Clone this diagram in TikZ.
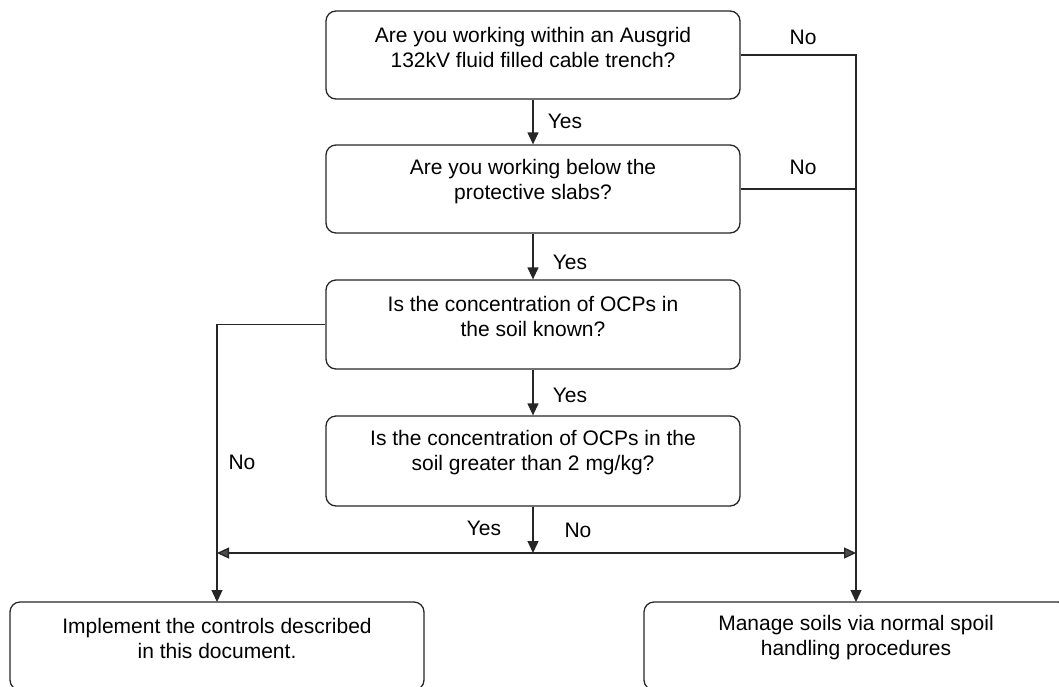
\documentclass[tikz,border=0pt]{standalone}
\usepackage{fontspec}
\setmainfont{Liberation Sans}
\usetikzlibrary{arrows.meta}
\begin{document}
\begin{tikzpicture}[x=1pt,y=1pt,
  box/.style={draw=black!85, line width=1.3pt, rounded corners=10pt, minimum width=414pt, inner sep=0pt},
  txt/.style={align=center, font=\fontsize{21}{25}\selectfont, inner sep=0pt},
  lab/.style={font=\fontsize{21}{25}\selectfont, inner sep=0pt},
  conn/.style={draw=black!85, line width=1.3pt},
  arr/.style={conn, -{Triangle[length=12pt,width=11pt]}},
  darr/.style={conn, {Triangle[length=12pt,width=11pt,fill=black!70]}-{Triangle[length=12pt,width=11pt,fill=black!70]}}
]
\useasboundingbox (0,0) rectangle (1059,-686);
\begin{scope}
\clip (0,0) rectangle (1059,-686);
\node[box, minimum height=88pt] (b1) at (533,-55) {};
\node[box, minimum height=88pt] (b2) at (533,-189) {};
\node[box, minimum height=89pt] (b3) at (533,-324.5) {};
\node[box, minimum height=90pt] (b4) at (533,-461) {};
\node[box, minimum height=88pt] (b5) at (217,-646) {};
\node[box, minimum height=88pt, minimum width=424pt] (b6) at (856,-646) {};
\end{scope}
\node[txt] (t1) at ([yshift=-37pt]b1.north) {Are you working within an Ausgrid\\132kV fluid filled cable trench?};
\node[txt] (t2) at ([yshift=-37pt]b2.north) {Are you working below the\\protective slabs?};
\node[txt] (t3) at ([yshift=-37pt]b3.north) {Is the concentration of OCPs in\\the soil known?};
\node[txt] (t4) at ([yshift=-37pt]b4.north) {Is the concentration of OCPs in the\\soil greater than 2 mg/kg?};
\node[txt] (t5) at (217,-638) {Implement the controls described\\in this document.};
\node[txt] (t6) at (856,-638) {Manage soils via normal spoil\\handling procedures};

\coordinate (j) at (533,-553);
\coordinate (jl) at (217,-553);
\coordinate (jr) at (856,-553);
\coordinate (b6top) at (856,-602);
\coordinate (b5top) at (217,-602);

\draw[arr] (b1.south) -- (b2.north);
\draw[arr] (b2.south) -- (b3.north);
\draw[arr] (b3.south) -- (b4.north);
\draw[arr] (b4.south) -- (j);
\draw[darr] (jl) -- (jr);
\draw[arr] (b3.west) -| (b5top);
\draw[arr] (b1.east) -| (b6top);
\draw[conn] (b2.east) -- (b2.east -| b6top);

\node[lab] (n1) at (803,-37) {No};
\node[lab] (n2) at (803,-167) {No};
\node[lab] (y1) at (565,-121) {Yes};
\node[lab] (y2) at (570,-262) {Yes};
\node[lab] (y3) at (570,-395) {Yes};
\node[lab] (n3) at (242,-462) {No};
\node[lab] (y4) at (484,-528) {Yes};
\node[lab] (n4) at (578,-530) {No};
\end{tikzpicture}
\end{document}
